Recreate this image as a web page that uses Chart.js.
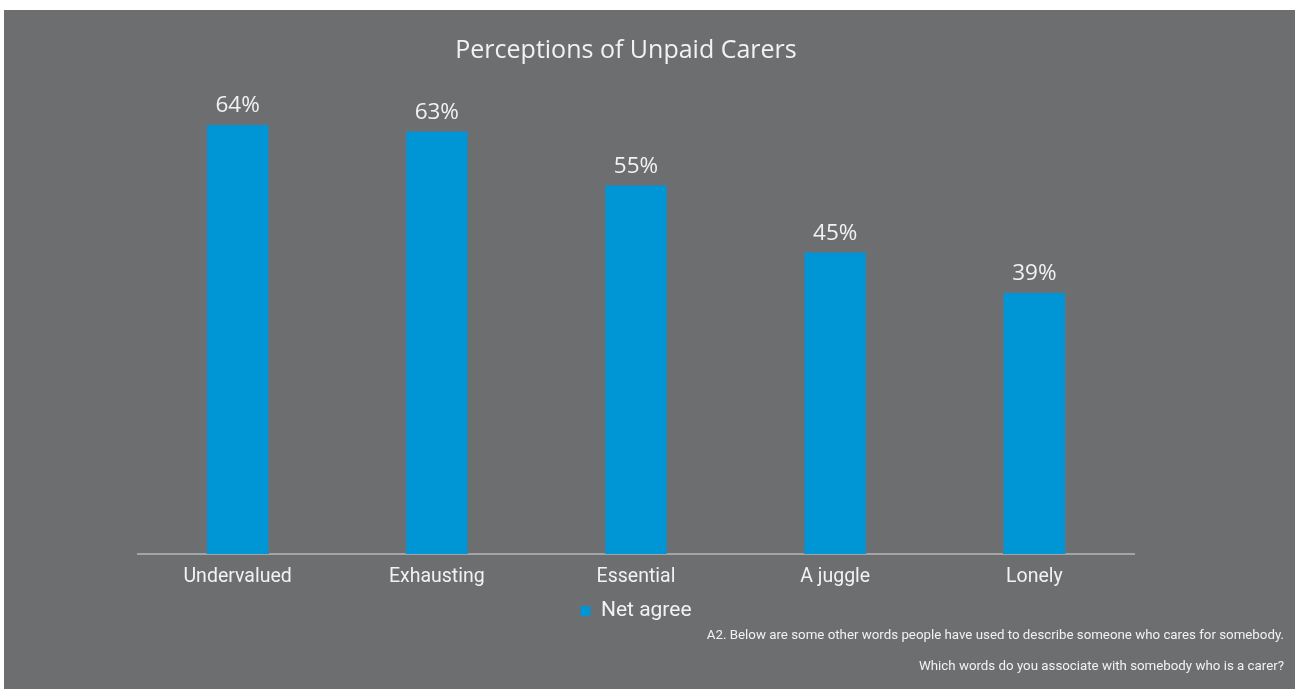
<!DOCTYPE html>
<html>
<head>
<meta charset="utf-8">
<script src="https://cdn.jsdelivr.net/npm/chart.js@4/dist/chart.umd.min.js"></script>
<style>
	html, body { margin: 0; padding: 0; background: #ffffff; }
	#wrap { position: relative; width: 1297px; height: 689px; }
</style>
</head>
<body>
<div id="wrap"><canvas id="chart1"></canvas></div>
<script>
var categories = ['Undervalued', 'Exhausting', 'Essential', 'A juggle', 'Lonely'];
var netAgree = [64, 63, 55, 45, 39];
var seriesName = 'Net agree';
var chartTitle = 'Perceptions of Unpaid Carers';
var footnotes = [
	'A2. Below are some other words people have used to describe someone who cares for somebody.',
	'Which words do you associate with somebody who is a carer?'
];

var textColor = '#f2f2f2';

// grey panel behind the chart, leaving a white strip along the top
var panel = {
	id: 'panel',
	beforeDraw: function(chart) {
		var ctx = chart.ctx;
		ctx.save();
		ctx.fillStyle = '#6d6e70';
		ctx.fillRect(4, 10, chart.width - 6, chart.height - 10);
		ctx.restore();
	}
};

// title, percentage labels above each bar, and the question text bottom right
var labels = {
	id: 'labels',
	afterDatasetsDraw: function(chart) {
		var ctx = chart.ctx;
		var meta = chart.getDatasetMeta(0);
		ctx.save();
		ctx.fillStyle = textColor;
		ctx.textAlign = 'center';
		ctx.textBaseline = 'middle';
		ctx.font = '25px "Open Sans", sans-serif';
		ctx.fillText(chartTitle, 626, 51);

		ctx.font = '22.5px "Open Sans", sans-serif';
		ctx.textBaseline = 'alphabetic';
		meta.data.forEach(function(bar, i) {
			ctx.fillText(netAgree[i] + '%', bar.x, bar.y - 12);
		});

		ctx.font = '13.3px Roboto, sans-serif';
		ctx.textAlign = 'right';
		ctx.textBaseline = 'middle';
		ctx.fillText(footnotes[0], chart.width - 13, 636);
		ctx.fillText(footnotes[1], chart.width - 13, 667);
		ctx.restore();
	}
};

var ctx = document.getElementById('chart1').getContext('2d');
new Chart(ctx, {
	type: 'bar',
	data: {
		labels: categories,
		datasets: [{
			label: seriesName,
			data: netAgree,
			backgroundColor: '#0096d6',
			borderColor: '#3f7fa6',
			borderWidth: { left: 1, right: 1, top: 1, bottom: 0 },
			barPercentage: 0.315,
			categoryPercentage: 1
		}]
	},
	plugins: [panel, labels],
	options: {
		responsive: true,
		maintainAspectRatio: false,
		animation: false,
		layout: {
			padding: { left: 138, right: 163, top: 84, bottom: 57.5 }
		},
		scales: {
			x: {
				grid: { display: false, drawTicks: false },
				border: { display: true, color: '#a3a4a6', width: 2 },
				ticks: {
					color: textColor,
					padding: 11,
					font: { family: 'Roboto, sans-serif', size: 19.5 }
				},
				afterFit: function(scale) { scale.height = 36.5; }
			},
			y: {
				display: false,
				min: 0,
				max: 70
			}
		},
		plugins: {
			title: { display: false },
			legend: {
				position: 'bottom',
				labels: {
					color: textColor,
					boxWidth: 10,
					boxHeight: 10,
					padding: 10,
					font: { family: 'Roboto, sans-serif', size: 21 }
				}
			},
			tooltip: { enabled: false }
		}
	}
});
</script>
</body>
</html>
